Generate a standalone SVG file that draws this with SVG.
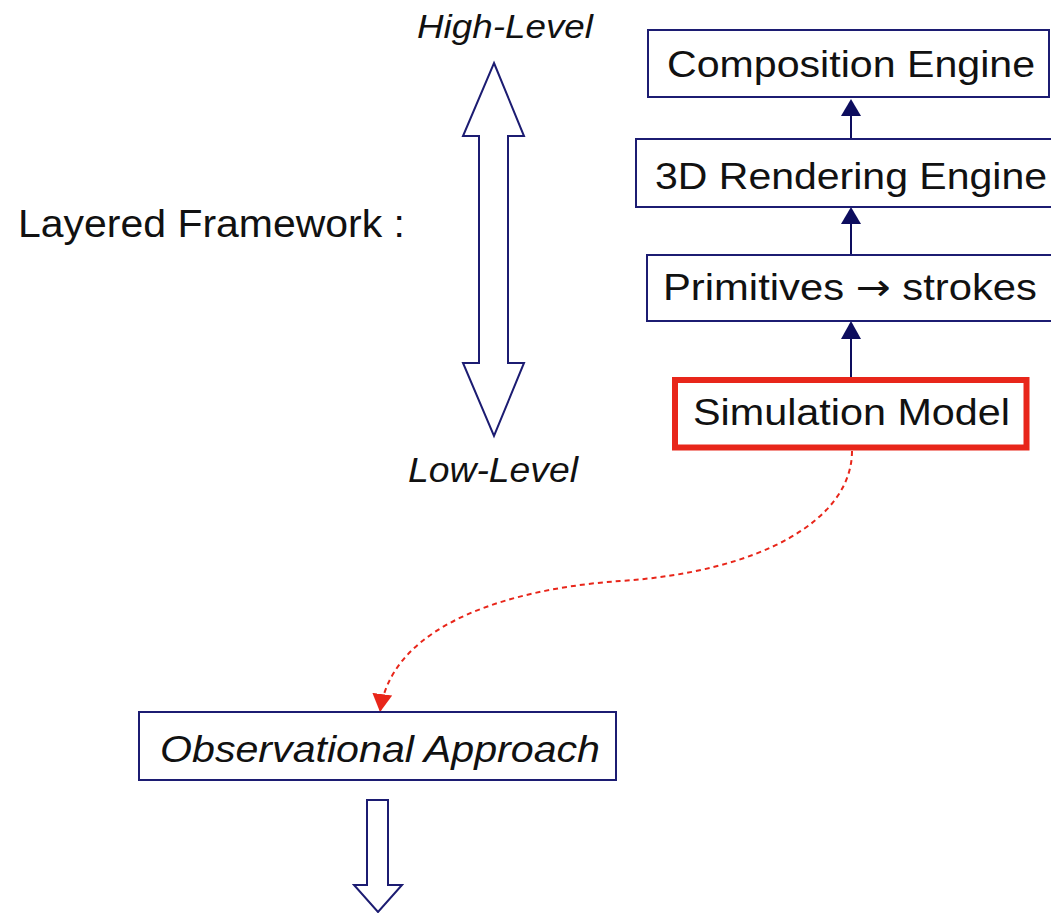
<svg xmlns="http://www.w3.org/2000/svg" width="1051" height="913" viewBox="0 0 1051 913">
<style>
.box{fill:#fff;stroke:#1c1c72;stroke-width:2}
.red{fill:#fff;stroke:#e8261a;stroke-width:6}
.t{font-family:"Liberation Sans",Arial,sans-serif;fill:#111}
.it{font-style:italic}
.conn{stroke:#0d0d5e;stroke-width:2;fill:none}
.head{fill:#0d0d5e}
.dash{stroke:#e8261a;stroke-width:2;fill:none;stroke-dasharray:5 4}
.bigarrow{fill:#fff;stroke:#1c1c72;stroke-width:2;stroke-linejoin:miter}
</style>
<defs>
<marker id="redhead" markerWidth="22" markerHeight="20" refX="18" refY="10" orient="auto" markerUnits="userSpaceOnUse" viewBox="0 0 22 20">
<path d="M0,0 L18,10 L0,20 Z" fill="#e8261a"/>
</marker>
</defs>
<rect width="1051" height="913" fill="#fff"/>

<g id="layered-label">
<text class="t" x="18" y="237" font-size="38" textLength="387" lengthAdjust="spacingAndGlyphs">Layered Framework :</text>
</g>
<g id="high-level">
<text class="t it" x="417" y="38" font-size="33" textLength="176" lengthAdjust="spacingAndGlyphs">High-Level</text>
</g>
<g id="low-level">
<text class="t it" x="408" y="482" font-size="35" textLength="170" lengthAdjust="spacingAndGlyphs">Low-Level</text>
</g>
<g id="level-arrow">
<polygon class="bigarrow" points="494,63 524,136 508,136 508,363 524,363 494,436 463,363 479,363 479,136 463,136"/>
</g>

<g id="connectors">
<line class="conn" x1="851" y1="139" x2="851" y2="110"/>
<line class="conn" x1="851" y1="255" x2="851" y2="218"/>
<line class="conn" x1="851" y1="377" x2="851" y2="332"/>
<path class="head" d="M851,99 L861,116 L841,116 Z"/>
<path class="head" d="M851,207 L861,224 L841,224 Z"/>
<path class="head" d="M851,321 L861,339 L841,339 Z"/>
<path class="dash" d="M852,451 C852,520 760,572 620,581 C520,588 392,620 380,712" marker-end="url(#redhead)"/>
</g>

<g id="composition-engine">
<rect class="box" x="648" y="30" width="401" height="67"/>
<text class="t" x="667" y="77" font-size="37" textLength="368" lengthAdjust="spacingAndGlyphs">Composition Engine</text>
</g>
<g id="rendering-engine">
<rect class="box" x="636" y="139" width="430" height="68"/>
<text class="t" x="655" y="189" font-size="37" textLength="392" lengthAdjust="spacingAndGlyphs">3D Rendering Engine</text>
</g>
<g id="primitives">
<rect class="box" x="647" y="255" width="420" height="66"/>
<text class="t" x="663" y="300" font-size="37" textLength="374" lengthAdjust="spacingAndGlyphs">Primitives <tspan font-family="'DejaVu Sans',sans-serif">→</tspan> strokes</text>
</g>
<g id="simulation-model">
<rect class="red" x="675" y="380" width="351.5" height="67.5"/>
<text class="t" x="693" y="425" font-size="37" textLength="317" lengthAdjust="spacingAndGlyphs">Simulation Model</text>
</g>
<g id="observational-approach">
<rect class="box" x="139" y="712" width="477" height="68"/>
<text class="t it" x="160" y="762" font-size="37" textLength="440" lengthAdjust="spacingAndGlyphs">Observational Approach</text>
</g>
<g id="down-arrow">
<polygon class="bigarrow" points="367,800 388,800 388,885 402,885 378,912 354,885 367,885"/>
</g>
</svg>
